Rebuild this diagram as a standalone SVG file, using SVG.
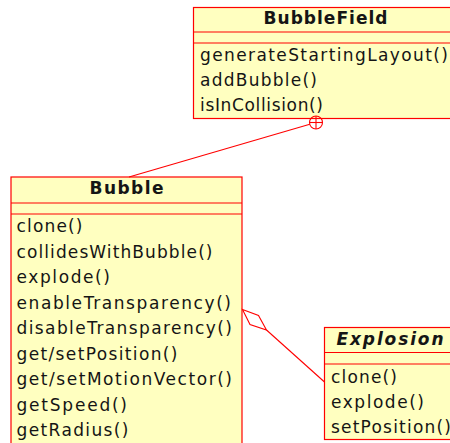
<svg xmlns="http://www.w3.org/2000/svg" width="450" height="443" viewBox="0 0 450 443">
<style>
.box{fill:#FFFFC0;stroke:#FF0000;stroke-width:1.2}
.sep{stroke:#FF0000;stroke-width:1.2}
.t{font-family:"DejaVu Sans",Verdana,sans-serif;font-size:17px;fill:#151515}
.title{font-weight:bold;text-anchor:middle}
.conn{fill:none;stroke:#FF0000;stroke-width:1.1}
</style>
<rect width="450" height="443" fill="#FFFFFF"/>
<g id="BubbleField">
<rect class="box" x="193.5" y="7.5" width="264" height="111"/>
<line class="sep" x1="193.5" y1="32" x2="457.5" y2="32"/>
<line class="sep" x1="193.5" y1="43" x2="457.5" y2="43"/>
<text class="t title" x="325.5" y="24" textLength="124" lengthAdjust="spacing">BubbleField</text>
<text class="t" x="200" y="61" textLength="248" lengthAdjust="spacing">generateStartingLayout()</text>
<text class="t" x="200" y="86" textLength="117" lengthAdjust="spacing">addBubble()</text>
<text class="t" x="200" y="111" textLength="123" lengthAdjust="spacing">isInCollision()</text>
</g>
<g id="Bubble">
<rect class="box" x="11" y="177" width="231" height="270"/>
<line class="sep" x1="11" y1="203" x2="242" y2="203"/>
<line class="sep" x1="11" y1="214" x2="242" y2="214"/>
<text class="t title" x="126.5" y="194" textLength="74" lengthAdjust="spacing">Bubble</text>
<text class="t" x="16.5" y="232" textLength="66" lengthAdjust="spacing">clone()</text>
<text class="t" x="16.5" y="257.5" textLength="196" lengthAdjust="spacing">collidesWithBubble()</text>
<text class="t" x="16.5" y="283" textLength="93.5" lengthAdjust="spacing">explode()</text>
<text class="t" x="16.5" y="308.5" textLength="214.5" lengthAdjust="spacing">enableTransparency()</text>
<text class="t" x="16.5" y="334" textLength="215.5" lengthAdjust="spacing">disableTransparency()</text>
<text class="t" x="16.5" y="359.5" textLength="161" lengthAdjust="spacing">get/setPosition()</text>
<text class="t" x="16.5" y="385" textLength="215.5" lengthAdjust="spacing">get/setMotionVector()</text>
<text class="t" x="16.5" y="410.5" textLength="110.5" lengthAdjust="spacing">getSpeed()</text>
<text class="t" x="16.5" y="436" textLength="112" lengthAdjust="spacing">getRadius()</text>
</g>
<g id="Explosion">
<rect class="box" x="324.5" y="327.5" width="134" height="112"/>
<line class="sep" x1="324.5" y1="352.5" x2="458.5" y2="352.5"/>
<line class="sep" x1="324.5" y1="364" x2="458.5" y2="364"/>
<text class="t title" x="390" y="345" font-style="italic" textLength="107" lengthAdjust="spacing">Explosion</text>
<text class="t" x="331" y="383" textLength="66" lengthAdjust="spacing">clone()</text>
<text class="t" x="331" y="408" textLength="93" lengthAdjust="spacing">explode()</text>
<text class="t" x="331" y="433" textLength="120" lengthAdjust="spacing">setPosition()</text>
</g>
<g id="connectors">
<line class="conn" x1="129" y1="177" x2="309.8" y2="124.3"/>
<circle class="conn" cx="316" cy="122.5" r="6.5"/>
<line class="conn" x1="309.5" y1="122.5" x2="322.5" y2="122.5"/>
<line class="conn" x1="316" y1="116" x2="316" y2="129"/>
<polygon class="conn" points="242.5,309.5 258.5,315.5 266.5,330 250,324.5"/>
<line class="conn" x1="266.5" y1="330" x2="324.5" y2="382"/>
</g>
</svg>
